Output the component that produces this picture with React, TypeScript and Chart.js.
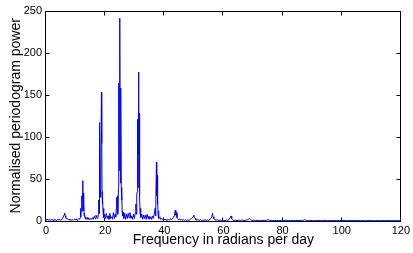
import React, { useEffect, useRef } from "react";
import { Chart, registerables } from "chart.js";

Chart.register(...registerables);

// Frequency (rad/day) and normalised periodogram power, by band
const freqLow = [0.0, 0.3, 0.6, 0.9, 1.2, 1.5, 1.8, 2.1, 2.4, 2.7, 3.0, 3.3, 3.6, 3.9, 4.2, 4.5, 4.8, 5.1, 5.4, 5.7, 5.9, 6.1, 6.3, 6.5, 6.7, 6.9, 7.2, 7.5, 7.8, 8.1, 8.4, 8.7, 9.0, 9.3, 9.6, 9.9, 10.2, 10.5, 10.8, 11.1, 11.4];
const powerLow = [2.0, 1.0, 2.5, 0.8, 1.6, 0.6, 2.1, 1.0, 1.4, 0.7, 2.0, 1.1, 0.5, 1.8, 0.9, 2.3, 1.0, 1.6, 2.2, 3.4, 5.0, 7.2, 9.5, 6.1, 4.2, 2.6, 3.1, 1.4, 2.0, 0.9, 1.8, 0.8, 1.5, 1.0, 2.1, 1.2, 2.6, 1.0, 1.5, 3.0, 2.0];

const freq12 = [11.6, 11.7, 11.8, 11.95, 12.1, 12.2, 12.4, 12.5, 12.6, 12.7, 12.8, 12.9, 13.0, 13.2, 13.4, 13.6, 13.9, 14.2, 14.5, 14.8, 15.1, 15.4, 15.7, 16.0, 16.3, 16.6, 16.9, 17.2, 17.5];
const power12 = [4, 15, 5, 14, 30, 12, 48, 28, 33, 12, 20, 6, 9, 3, 5, 2, 4, 2, 3.5, 1.5, 3, 2, 4, 2, 5.5, 3, 7, 4, 3];

const freq19 = [17.7, 17.85, 17.95, 18.05, 18.15, 18.3, 18.45, 18.6, 18.75, 18.85, 18.95, 19.05, 19.15, 19.3, 19.45, 19.6, 19.8, 20.1, 20.4, 20.7, 21.0, 21.3, 21.6, 21.9, 22.2, 22.5, 22.8, 23.1, 23.4, 23.6, 23.75];
const power19 = [8, 25, 9, 30, 117, 40, 28, 60, 153, 92, 35, 20, 30, 10, 15, 4, 8, 3, 9, 3, 6, 2, 9, 3, 5, 2, 10, 3, 8, 5, 14];

const freq25 = [23.9, 24.05, 24.2, 24.35, 24.5, 24.6, 24.75, 24.95, 25.05, 25.2, 25.35, 25.45, 25.55, 25.65, 25.75, 25.9, 26.1, 26.3, 26.6, 26.9, 27.2, 27.5, 27.8, 28.1, 28.4, 28.7, 29.0, 29.3, 29.6, 29.9, 30.2, 30.4, 30.55, 30.7];
const power25 = [28, 12, 30, 8, 40, 164, 60, 241, 100, 45, 158, 40, 25, 38, 12, 6, 10, 3, 9, 2, 8, 3, 9, 4, 10, 3, 6, 2, 8, 3, 10, 20, 8, 32];

const freq31 = [30.85, 30.95, 31.05, 31.15, 31.3, 31.4, 31.5, 31.6, 31.7, 31.8, 31.95, 32.1, 32.4, 32.7, 33.0, 33.3, 33.6, 33.9, 34.2, 34.5, 34.8, 35.1, 35.4, 35.7, 36.0, 36.3, 36.6, 36.9, 37.05];
const power31 = [35, 121, 50, 40, 177, 80, 128, 45, 30, 10, 15, 4, 8, 2, 7, 3, 7, 2, 8, 3, 6, 2, 5, 2, 6, 3, 8, 15, 6];

const freq38 = [37.2, 37.35, 37.45, 37.6, 37.7, 37.8, 37.9, 38.0, 38.2, 38.5, 38.8, 39.1, 39.4, 39.7, 40.0, 40.3, 40.6, 40.9, 41.2, 41.5, 41.8, 42.1, 42.4, 42.7, 43.0, 43.3, 43.5, 43.75, 43.9, 44.1, 44.3, 44.5, 44.8, 45.1, 45.4, 45.7, 46.0, 46.4, 46.8, 47.2, 47.6, 48.0, 48.4, 48.8];
const power38 = [20, 70, 30, 54, 20, 25, 8, 12, 3, 5, 2, 3, 1.5, 3, 1, 2.5, 1, 2, 1, 2, 1, 3, 1.5, 2, 4, 6, 9, 13, 7, 10, 4, 3, 1.5, 2.5, 1, 2, 0.8, 1.8, 0.7, 1.5, 0.6, 1.4, 0.8, 2];

const freqHigh = [49.2, 49.5, 49.8, 50.0, 50.2, 50.4, 50.7, 51.0, 51.4, 51.8, 52.2, 52.6, 53.0, 53.4, 53.8, 54.2, 54.6, 55.0, 55.4, 55.8, 56.1, 56.3, 56.5, 56.8, 57.1, 57.5, 58.0, 58.5, 59.0, 59.5, 60.0, 60.5, 61.0, 61.5, 62.0, 62.3, 62.6, 62.8, 63.1, 63.5, 64.0, 64.6, 65.2, 65.8, 66.4, 67.0, 67.6, 68.2, 68.8, 69.2, 69.6, 70.2, 70.8, 71.5, 72.2, 73.0, 73.8, 74.6, 75.2, 75.6, 76.4, 77.2, 78.0, 78.8, 79.6, 80.4, 81.2, 82.0, 82.8, 83.6, 84.4, 85.2, 86.0, 86.8, 87.5, 88.0, 88.8, 89.6, 90.4, 91.2, 92.0, 92.8, 93.6, 94.4, 95.2, 96.0, 96.8, 97.6, 98.4, 99.2, 100.0, 100.8, 101.6, 102.4, 103.2, 104.0, 104.8, 105.6, 106.4, 107.2, 108.0, 108.8, 109.6, 110.4, 111.2, 112.0, 112.8, 113.6, 114.4, 115.2, 116.0, 116.8, 117.6, 118.4, 119.2, 120.0];
const powerHigh = [3, 4, 5.5, 7, 4, 3, 1.5, 1, 1.8, 0.6, 1.4, 0.5, 1.2, 0.6, 1.5, 0.7, 1.3, 0.8, 1.8, 3, 5, 9, 5, 3, 1.5, 1, 1.4, 0.5, 1.2, 0.6, 1, 0.5, 1.3, 0.8, 2, 4, 6, 3, 1.5, 0.7, 1, 0.4, 1.1, 0.5, 1.3, 0.5, 1, 1.5, 3, 1.5, 0.8, 1, 0.4, 0.9, 0.3, 0.8, 0.4, 1, 1.8, 0.6, 0.8, 0.3, 0.7, 0.3, 0.8, 0.3, 0.9, 0.5, 0.7, 0.3, 0.8, 0.4, 0.7, 0.4, 1.8, 0.6, 0.4, 0.8, 0.3, 0.6, 0.3, 0.7, 0.4, 0.8, 0.3, 0.6, 0.3, 0.7, 0.4, 0.6, 0.3, 0.9, 0.3, 0.6, 0.4, 0.7, 0.3, 0.6, 0.3, 0.5, 0.3, 0.6, 0.3, 0.5, 0.3, 0.6, 0.3, 0.5, 0.3, 0.6, 0.3, 0.5, 0.3, 0.5, 0.3, 0.5];

const xTicks = [0, 20, 40, 60, 80, 100, 120];
const yTicks = [0, 50, 100, 150, 200, 250];
const xTitle = "Frequency in radians per day";
const yTitle = "Normalised periodogram power";

const FONT = "'Liberation Sans', Arial, Helvetica, sans-serif";

function drawFrame(chart: any) {
  const ctx = chart.ctx;
  const a = chart.chartArea;
  const sx = chart.scales.x;
  const sy = chart.scales.y;
  const L = Math.round(a.left) - 0.5;
  const R = Math.round(a.right) - 0.5;
  const T = Math.round(a.top) + 0.5;
  const B = Math.round(a.bottom) + 0.5;
  ctx.save();
  ctx.strokeStyle = "#000000";
  ctx.lineWidth = 1;
  ctx.beginPath();
  ctx.moveTo(L, T);
  ctx.lineTo(R, T);
  ctx.lineTo(R, B);
  ctx.moveTo(L, T);
  ctx.lineTo(L, B);
  ctx.lineTo(R, B);
  const tl = 4;
  for (const v of xTicks) {
    const px = Math.round(sx.getPixelForValue(v)) - 0.5;
    ctx.moveTo(px, B);
    ctx.lineTo(px, B - tl);
    ctx.moveTo(px, T);
    ctx.lineTo(px, T + tl);
  }
  for (const v of yTicks) {
    const py = Math.round(sy.getPixelForValue(v)) + 0.5;
    ctx.moveTo(L, py);
    ctx.lineTo(L + tl, py);
    ctx.moveTo(R, py);
    ctx.lineTo(R - tl, py);
  }
  ctx.stroke();
  ctx.restore();
}

const framePlugin = {
  id: "matlabFrame",
  beforeDatasetsDraw: (chart: any) => {
    drawFrame(chart);
  },
};

export default function App() {
  const ref = useRef<HTMLCanvasElement | null>(null);

  useEffect(() => {
    document.body.style.margin = "0";
    const freqs = [...freqLow, ...freq12, ...freq19, ...freq25, ...freq31, ...freq38, ...freqHigh];
    const powers = [...powerLow, ...power12, ...power19, ...power25, ...power31, ...power38, ...powerHigh];
    const points = freqs.map((f, i) => ({ x: f, y: powers[i] }));

    const chart = new Chart(ref.current as HTMLCanvasElement, {
      type: "line",
      data: {
        datasets: [
          {
            data: points,
            borderColor: "#0000ff",
            borderWidth: 1,
            pointRadius: 0,
            tension: 0,
            fill: false,
          },
        ],
      },
      options: {
        responsive: false,
        animation: false,
        devicePixelRatio: 1,
        layout: { padding: { top: 9, right: 9, left: 0, bottom: 0 } },
        plugins: { legend: { display: false }, tooltip: { enabled: false } },
        scales: {
          x: {
            type: "linear",
            min: 0,
            max: 120,
            afterBuildTicks: (scale: any) => {
              scale.ticks = xTicks.map((v) => ({ value: v }));
            },
            afterFit: (scale: any) => {
              scale.height = 32;
            },
            grid: { display: false, drawTicks: false, tickLength: 0 },
            border: { display: false },
            ticks: {
              color: "#000",
              font: { family: FONT, size: 11 },
              padding: 3,
              maxRotation: 0,
              autoSkip: false,
            },
            title: {
              display: true,
              text: xTitle,
              color: "#000",
              font: { family: FONT, size: 14 },
              padding: { top: 0, bottom: 4 },
            },
          },
          y: {
            type: "linear",
            min: 0,
            max: 250,
            afterBuildTicks: (scale: any) => {
              scale.ticks = yTicks.map((v) => ({ value: v }));
            },
            afterFit: (scale: any) => {
              scale.width = 46;
            },
            grid: { display: false, drawTicks: false, tickLength: 0 },
            border: { display: false },
            ticks: {
              color: "#000",
              font: { family: FONT, size: 11 },
              padding: 4,
              autoSkip: false,
            },
            title: {
              display: true,
              text: yTitle,
              color: "#000",
              font: { family: FONT, size: 14 },
              padding: { top: 8, bottom: 0 },
            },
          },
        },
      },
      plugins: [framePlugin],
    });
    return () => chart.destroy();
  }, []);

  return (
    <div style={{ width: 413, height: 253, background: "#fff" }}>
      <canvas ref={ref} width={413} height={253} style={{ display: "block" }} />
    </div>
  );
}
